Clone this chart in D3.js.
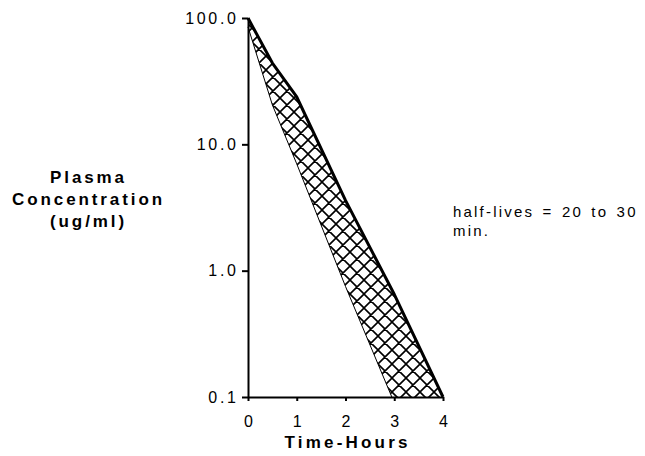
<!DOCTYPE html>
<html>
<head>
<meta charset="utf-8">
<script src="https://cdn.jsdelivr.net/npm/d3@7"></script>
<style>
  body { margin: 0; background: #fff; }
  svg { display: block; font-family: "Liberation Sans", Arial, sans-serif; }
</style>
</head>
<body>
<svg id="chart" width="645" height="456"></svg>
<script>
// values
var upperTimes = [0, 0.5, 1, 2, 3, 4];
var upperConc = [100, 44, 23.7, 3.6, 0.65, 0.1];
var lowerTimes = [0, 0.5, 1, 2, 2.95];
var lowerConc = [85, 20.5, 7.0, 0.75, 0.1];
var xTicks = [0, 1, 2, 3, 4];
var yTicks = [0.1, 1, 10, 100];
var yTitle = ['Plasma', 'Concentration', '(ug/ml)'];
var xTitle = 'Time-Hours';
var note = ['half-lives = 20 to 30', 'min.'];

var svg = d3.select('#chart');
var x = d3.scaleLinear().domain([0, 4]).range([248, 443]);
var y = d3.scaleLog().domain([0.1, 100]).range([397, 18]);

var upper = upperTimes.map(function(t, i) { return [t, upperConc[i]]; });
var lower = lowerTimes.map(function(t, i) { return [t, lowerConc[i]]; });

// cross hatch pattern
var pat = svg.append('defs').append('pattern')
    .attr('id', 'hatch')
    .attr('patternUnits', 'userSpaceOnUse')
    .attr('width', 14).attr('height', 14);
pat.append('path')
    .attr('d', 'M0,0L14,14M14,0L0,14M-1,13L1,15M13,-1L15,1M-1,1L1,-1M13,15L15,13')
    .attr('stroke', '#000')
    .attr('stroke-width', 1.6);

var line = d3.line()
    .x(function(d) { return x(d[0]); })
    .y(function(d) { return y(d[1]); });

// shaded band between the two curves
svg.append('path')
    .attr('d', line(upper.concat(lower.slice().reverse())) + 'Z')
    .attr('fill', 'url(#hatch)')
    .attr('stroke', 'none');

svg.append('path')
    .attr('d', line(lower))
    .attr('fill', 'none')
    .attr('stroke', '#000')
    .attr('stroke-width', 1);

svg.append('path')
    .attr('d', line(upper))
    .attr('fill', 'none')
    .attr('stroke', '#000')
    .attr('stroke-width', 3)
    .attr('stroke-linejoin', 'round');

// axes
var yAxis = d3.axisLeft(y).tickValues(yTicks).tickFormat(d3.format('.1f')).tickSize(6).tickSizeOuter(0);
var xAxis = d3.axisBottom(x).tickValues(xTicks).tickFormat(d3.format('d')).tickSize(4).tickSizeOuter(0);

var gy = svg.append('g').attr('transform', 'translate(248,0)').call(yAxis);
var gx = svg.append('g').attr('transform', 'translate(0,397)').call(xAxis);

[gx, gy].forEach(function(g) {
    g.select('.domain').attr('stroke', '#000').attr('stroke-width', 2);
    g.selectAll('.tick line').attr('stroke', '#000').attr('stroke-width', 2);
    g.selectAll('.tick text')
        .attr('fill', '#000')
        .style('font-family', '"Liberation Sans", Arial, sans-serif')
        .style('font-size', '16px')
        .style('letter-spacing', '2.7px');
});
gy.selectAll('.tick text').attr('x', -12).attr('dx', '2.7px');
gx.selectAll('.tick text').attr('y', 19).attr('dx', '1.3px');

// titles
svg.append('text')
    .attr('x', 346 + 1.6).attr('y', 448)
    .attr('text-anchor', 'middle')
    .style('font-size', '17px').style('font-weight', 'bold').style('letter-spacing', '3.2px')
    .text(xTitle);

svg.append('g').selectAll('text').data(yTitle).enter().append('text')
    .attr('x', 87 + 1.5)
    .attr('y', function(d, i) { return 183 + i * 22; })
    .attr('text-anchor', 'middle')
    .style('font-size', '17px').style('font-weight', 'bold').style('letter-spacing', '2.9px')
    .text(function(d) { return d; });

svg.append('g').selectAll('text').data(note).enter().append('text')
    .attr('x', 453)
    .attr('y', function(d, i) { return 217 + i * 19; })
    .style('font-size', '15px').style('letter-spacing', '2.2px').style('word-spacing', '2px')
    .text(function(d) { return d; });
</script>
</body>
</html>
